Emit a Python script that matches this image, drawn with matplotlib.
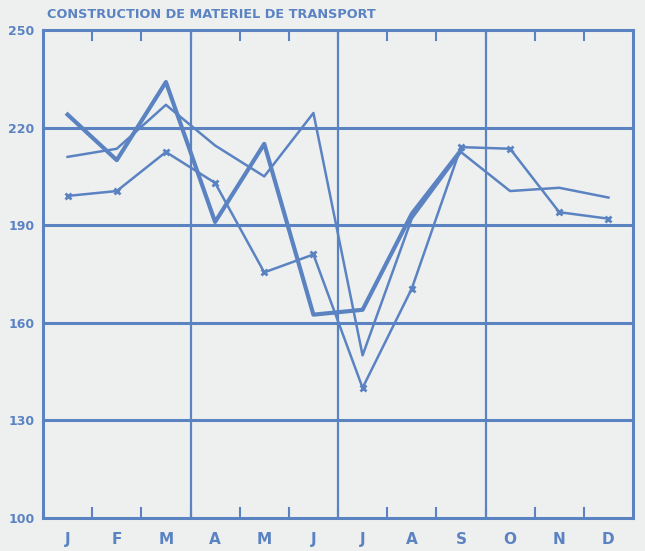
import matplotlib
matplotlib.use('Agg')
import matplotlib.pyplot as plt
import numpy as np

# monthly index values
months = ['J', 'F', 'M', 'A', 'M', 'J', 'J', 'A', 'S', 'O', 'N', 'D']
current = [224, 210, 234, 191, 215, 162.5, 164, 193.5, 213]
previous = [211, 213.5, 227, 214.5, 205, 224.5, 150, 192, 212.5, 200.5, 201.5, 198.5]
older = [199, 200.5, 212.5, 203, 175.5, 181, 140, 170.5, 214, 213.5, 194, 192]
yticks = [100, 130, 160, 190, 220, 250]

blue = '#5b83c2'
bg = '#eef0f0'

fig = plt.figure(figsize=(6.45, 5.51), dpi=100, facecolor=bg)
ax = fig.add_axes([43/645, 1-518/551, 590/645, 488/551])
ax.set_facecolor(bg)

x = np.arange(12) + 0.5
ax.plot(x[:len(current)], current, color=blue, lw=3.0, zorder=5)
ax.plot(x, previous, color=blue, lw=1.8, zorder=4)
ax.plot(x, older, color=blue, lw=1.8, marker='x', ms=5, mew=2, zorder=4)

ax.set_xlim(0, 12)
ax.set_ylim(100, 250)

for y in [130, 160, 190, 220]:
    ax.axhline(y, color=blue, lw=2.2, zorder=1)
for q in [3, 6, 9]:
    ax.axvline(q, color=blue, lw=1.6, zorder=1)

for s in ax.spines.values():
    s.set_color(blue)
    s.set_linewidth(2.2)

ax.set_yticks(yticks)
ax.set_yticklabels([str(v) for v in yticks], fontsize=9, fontweight='bold', color=blue)
ax.set_xticks(x)
ax.set_xticklabels(months, fontsize=11, fontweight='bold', color=blue)
ax.tick_params(axis='y', length=0, pad=6)
ax.tick_params(axis='x', length=0, pad=10)

# month boundary ticks drawn inward on top and bottom
for m in range(1, 12):
    ax.plot([m, m], [100, 103], color=blue, lw=1.5, clip_on=False, zorder=2)
    ax.plot([m, m], [250, 247], color=blue, lw=1.5, clip_on=False, zorder=2)

fig.text(47/645, 1-15/551, 'CONSTRUCTION DE MATERIEL DE TRANSPORT', color=blue,
         fontsize=9.3, fontweight='bold', va='center', ha='left')

fig.savefig('out.png', dpi=100, facecolor=bg)
